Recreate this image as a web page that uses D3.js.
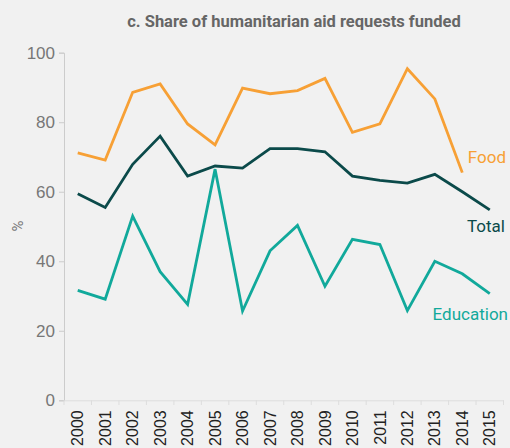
<!DOCTYPE html>
<html><head><meta charset="utf-8">
<script src="https://cdn.jsdelivr.net/npm/d3@7"></script>
<style>
body{margin:0;background:#f1f1f1;}
svg{display:block;font-family:"Roboto","Noto Sans",sans-serif;}
</style></head>
<body><svg id="c" width="510" height="448"></svg>
<script>
const years = ["2000","2001","2002","2003","2004","2005","2006","2007","2008","2009","2010","2011","2012","2013","2014","2015"];
const food = [71.2,69.1,88.6,91.0,79.5,73.5,89.8,88.2,89.1,92.6,77.1,79.5,95.4,86.7,65.5,null];
const total = [59.4,55.5,67.9,76.0,64.5,67.4,66.8,72.4,72.4,71.5,64.5,63.3,62.5,65.0,60.0,54.8];
const education = [31.6,29.1,53.0,37.0,27.6,66.5,25.7,43.0,50.3,32.8,46.3,44.8,25.8,40.0,36.4,30.7];
const yTicks = [0,20,40,60,80,100];
const seriesNames = ["Food","Total","Education"];

const svg = d3.select("#c");
svg.append("rect").attr("width",510).attr("height",448).attr("fill","#f1f1f1");
const x = d3.scaleBand().domain(years).range([64,503.5]);
const y = d3.scaleLinear().domain([0,100]).range([400.3,52.7]);

svg.append("text").attr("x",294).attr("y",26.5).attr("text-anchor","middle")
  .attr("font-size",16.5).attr("font-weight","bold").attr("fill","#666")
  .text("c. Share of humanitarian aid requests funded");

const ya = svg.append("g").attr("transform","translate(64,0)")
  .call(d3.axisLeft(y).tickValues(yTicks).tickSize(5).tickPadding(4));
ya.select(".domain").attr("stroke","#ccc");
ya.selectAll(".tick line").attr("stroke","#ccc");
ya.selectAll(".tick text").attr("font-size",17).attr("fill","#777").attr("font-family","inherit");

const xa = svg.append("g").attr("transform","translate(0,400.3)")
  .call(d3.axisBottom(x).tickSize(0).tickPadding(0));
xa.select(".domain").attr("stroke","#ddd");
xa.selectAll(".tick text").attr("font-size",16).attr("fill","#222").attr("font-family","inherit")
  .attr("transform","rotate(-90)").attr("text-anchor","end").attr("dx","-10").attr("dy","0.35em").attr("x",0).attr("y",0);
const bounds = x.domain().map(d=>x(d)).concat([x.range()[1]]);
svg.append("g").selectAll("line").data(bounds).join("line")
  .attr("x1",d=>d).attr("x2",d=>d).attr("y1",400.3).attr("y2",405).attr("stroke","#ddd");

svg.append("text").attr("transform","translate(23,226) rotate(-90)").attr("text-anchor","middle")
  .attr("font-size",15).attr("fill","#777").text("%");

const colors = {Food:"#f7a035",Total:"#0b4a4a",Education:"#11a99b"};
const data = {Food:food,Total:total,Education:education};
const line = d3.line().defined(d=>d.v!=null).x(d=>x(d.k)+x.bandwidth()/2).y(d=>y(d.v));
["Education","Food","Total"].forEach(n=>{
  svg.append("path").datum(years.map((k,i)=>({k,v:data[n][i]})))
    .attr("d",line).attr("fill","none").attr("stroke",colors[n]).attr("stroke-width",2.8)
    .attr("stroke-linejoin","miter");
});
const labelPos = {Food:[506,163],Total:[505,232],Education:[508,320]};
seriesNames.forEach(n=>{
  svg.append("text").attr("x",labelPos[n][0]).attr("y",labelPos[n][1]).attr("text-anchor","end")
    .attr("font-size",17).attr("fill",colors[n]).text(n);
});
</script></body></html>
